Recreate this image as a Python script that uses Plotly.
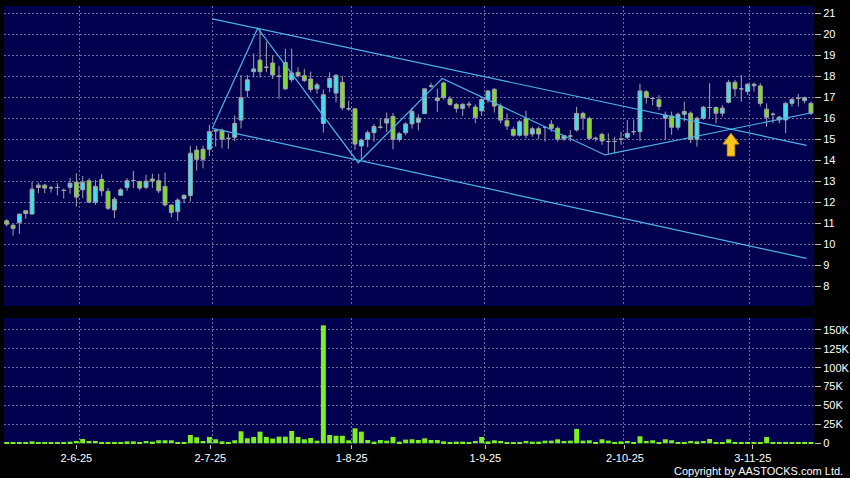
import plotly.graph_objects as go

# ---------------- data ----------------
OPEN = [11.11, 10.90, 11.03, 11.59, 11.43, 12.81, 12.81, 12.68, 12.70, 12.56,
        12.71, 12.95, 12.59, 13.02, 12.00, 13.08, 12.52, 11.63, 12.33, 12.70,
        13.03, 12.98, 12.71, 13.10, 13.02, 12.75, 11.86, 11.54, 12.18, 12.32,
        14.48, 14.52, 14.52, 15.40, 15.43, 15.04, 15.09, 15.91, 17.32, 18.22,
        18.77, 18.43, 18.63, 18.00, 18.66, 17.84, 18.19, 18.03, 17.87, 17.40,
        15.75, 17.47, 17.20, 17.71, 16.45, 16.45, 14.68, 15.00, 15.31, 15.57,
        15.77, 16.08, 14.99, 15.31, 15.73, 15.81, 16.22, 17.53, 16.97, 17.68,
        16.92, 16.66, 16.47, 16.68, 16.53, 16.35, 16.89, 17.38, 16.58, 15.88,
        15.47, 15.19, 15.99, 15.25, 15.50, 15.56, 15.71, 15.52, 15.01, 15.15,
        15.44, 16.23, 15.99, 15.04, 15.23, 14.89, 14.89, 15.00, 15.09, 15.36,
        15.36, 17.26, 16.94, 16.88, 16.00, 16.11, 15.57, 16.19, 16.24, 15.00,
        16.00, 16.51, 16.51, 16.24, 16.76, 17.71, 17.40, 17.27, 17.62, 17.54,
        16.43, 16.19, 15.92, 15.92, 16.71, 16.95, 16.84, 16.71]
HIGH = [11.19, 10.95, 11.43, 11.62, 12.98, 12.94, 12.87, 12.78, 12.90, 12.65,
        13.16, 13.38, 13.25, 13.14, 13.06, 13.33, 12.67, 12.24, 12.67, 13.14,
        13.49, 13.03, 13.30, 13.35, 13.35, 13.41, 11.90, 12.18, 12.38, 14.69,
        14.69, 14.69, 15.68, 15.47, 15.51, 15.28, 16.14, 18.06, 18.06, 19.09,
        20.24, 19.64, 19.00, 18.50, 19.32, 19.32, 18.43, 18.35, 18.22, 17.70,
        17.37, 18.19, 18.10, 18.00, 16.84, 16.45, 15.03, 15.42, 15.73, 16.00,
        16.27, 16.24, 15.34, 15.80, 16.50, 16.19, 17.40, 17.69, 17.40, 17.74,
        17.05, 16.73, 16.73, 16.81, 16.66, 16.96, 17.35, 17.43, 16.70, 16.23,
        15.60, 15.91, 16.36, 15.60, 15.60, 15.63, 15.91, 15.60, 15.20, 15.44,
        16.55, 16.31, 16.07, 15.12, 15.31, 15.28, 15.12, 15.36, 15.91, 15.94,
        17.65, 17.34, 17.02, 17.10, 16.32, 16.32, 16.27, 16.79, 16.32, 16.08,
        16.59, 17.67, 16.56, 16.63, 17.83, 17.83, 18.06, 17.67, 17.70, 17.67,
        16.71, 16.27, 16.11, 16.76, 16.95, 17.16, 17.03, 16.79]
LOW = [10.84, 10.40, 10.49, 11.21, 11.43, 12.43, 12.43, 12.46, 12.32, 12.17,
       12.40, 11.79, 12.19, 11.95, 11.87, 12.30, 11.63, 11.24, 12.30, 12.54,
       12.67, 12.56, 12.62, 12.67, 12.43, 11.79, 11.28, 11.11, 11.94, 12.02,
       13.50, 13.61, 14.20, 14.65, 14.57, 14.54, 14.91, 15.51, 17.00, 17.95,
       17.95, 18.19, 17.87, 16.93, 17.35, 17.72, 17.95, 17.72, 17.24, 17.17,
       15.32, 17.24, 16.75, 16.38, 16.35, 14.49, 14.00, 14.62, 14.88, 15.50,
       15.34, 14.52, 14.88, 15.19, 15.50, 15.42, 16.20, 17.45, 16.30, 16.89,
       16.58, 16.27, 16.11, 16.50, 15.77, 16.11, 16.73, 16.27, 15.75, 15.44,
       15.12, 15.12, 15.04, 15.12, 15.00, 14.89, 15.36, 14.89, 14.93, 14.89,
       15.36, 15.44, 14.96, 14.89, 14.73, 14.33, 14.33, 14.73, 15.01, 15.20,
       14.92, 16.70, 16.62, 16.40, 14.97, 15.21, 15.44, 15.84, 14.81, 14.65,
       15.92, 16.00, 15.76, 16.08, 16.71, 17.03, 16.79, 17.11, 17.27, 16.56,
       15.60, 15.76, 15.76, 15.29, 16.56, 16.56, 16.71, 16.16]
CLOSE = [10.95, 10.75, 11.43, 11.46, 12.62, 12.70, 12.67, 12.68, 12.70, 12.56,
         12.90, 12.24, 12.95, 12.00, 12.75, 12.54, 11.71, 12.14, 12.59, 13.02,
         13.03, 12.67, 13.00, 13.00, 12.54, 11.87, 11.51, 12.10, 12.32, 14.33,
         14.04, 14.04, 15.36, 15.40, 15.00, 15.04, 15.75, 16.98, 17.83, 18.35,
         18.22, 18.43, 18.06, 18.00, 17.40, 18.16, 18.03, 17.80, 17.37, 17.59,
         17.12, 17.89, 18.05, 16.50, 16.45, 14.77, 14.96, 15.31, 15.60, 15.57,
         15.96, 14.99, 15.26, 15.73, 16.32, 16.01, 17.40, 17.53, 16.84, 16.98,
         16.66, 16.47, 16.66, 16.64, 16.04, 16.89, 17.30, 16.58, 15.91, 15.63,
         15.19, 15.83, 15.19, 15.50, 15.25, 15.56, 15.52, 15.00, 15.17, 15.15,
         16.23, 16.02, 15.04, 15.04, 14.92, 14.89, 14.89, 15.00, 15.28, 15.36,
         17.30, 16.99, 16.94, 16.56, 16.16, 15.57, 16.19, 16.32, 15.00, 16.00,
         16.52, 16.51, 16.24, 16.48, 17.71, 17.40, 17.40, 17.62, 17.55, 16.71,
         16.05, 16.19, 16.05, 16.71, 16.90, 16.95, 16.98, 16.24]
VOLUME_K = [0.5, 0.5, 1.3, 0.5, 2.6, 1.3, 0.5, 0.5, 0.5, 0.5,
            2.2, 3.0, 5.7, 3.0, 3.0, 1.8, 1.8, 0.9, 1.3, 2.6,
            2.6, 0.5, 3.0, 2.2, 4.0, 4.0, 4.0, 1.8, 1.8, 11.0,
            8.0, 3.0, 8.4, 5.3, 2.6, 1.8, 4.0, 15.9, 6.6, 8.4,
            15.4, 8.4, 6.2, 8.8, 8.8, 16.3, 8.4, 5.3, 7.0, 3.5,
            156.0, 11.0, 10.0, 10.0, 4.0, 19.8, 15.4, 4.4, 2.2, 4.4,
            3.5, 8.4, 2.2, 4.9, 5.3, 4.4, 6.6, 4.4, 4.4, 2.6,
            1.8, 2.2, 2.2, 1.3, 3.0, 8.4, 2.6, 4.0, 3.0, 1.3,
            1.3, 1.8, 3.0, 2.2, 2.2, 3.5, 3.5, 5.3, 3.0, 3.5,
            19.0, 3.5, 4.0, 1.8, 5.3, 3.5, 1.8, 2.6, 3.0, 1.8,
            9.3, 3.0, 4.0, 1.3, 5.3, 4.0, 1.8, 1.8, 3.0, 2.6,
            3.0, 5.7, 1.3, 1.8, 5.3, 1.3, 1.3, 1.3, 1.3, 1.3,
            8.4, 0.9, 0.9, 1.8, 0.5, 0.5, 0.5, 0.5]
X = list(range(len(OPEN)))

TICK_LABELS = ["2-6-25", "2-7-25", "1-8-25", "1-9-25", "2-10-25", "3-11-25"]
TICK_POS = [10.99, 32.15, 54.48, 75.57, 97.63, 117.8]
GRID_POS = [11.46, 32.46, 54.48, 75.41, 97.36, 117.26]
PRICE_TICKS = list(range(8, 22))
VOL_TICKS = [0, 25000, 50000, 75000, 100000, 125000, 150000]
VOL_TICK_TEXT = ["0", "25K", "50K", "75K", "100K", "125K", "150K"]

# drawn analysis lines (candle index, price)
UPPER_X, UPPER_Y = [32.46, 126.3], [20.74, 14.71]
LOWER_X, LOWER_Y = [32.46, 126.3], [15.52, 9.32]
ZIGZAG_X = [32.46, 39.63, 55.52, 68.78, 94.47, 127.1]
ZIGZAG_Y = [15.52, 20.29, 13.88, 17.90, 14.25, 16.26]
ARROW_X, ARROW_TIP, ARROW_NECK, ARROW_BASE = 114.37, 15.28, 14.77, 14.20

# ---------------- styles ----------------
BG = "#00004e"
GRID = "#6c6c98"
WICK = "#a4a4a8"
UP = "#38e2ee"
DOWN = "#7ddf1e"
VOLC = "#7df01e"
TREND = "#4cb2ea"
FONT = dict(family="Liberation Sans, Arial, sans-serif", size=11, color="#ffffff")

fig = go.Figure()
fig.add_trace(go.Candlestick(
    x=X, open=OPEN, high=HIGH, low=LOW, close=CLOSE,
    increasing=dict(line=dict(color=WICK, width=1), fillcolor=UP),
    decreasing=dict(line=dict(color=WICK, width=1), fillcolor=DOWN),
    whiskerwidth=0, xaxis="x", yaxis="y", hoverinfo="skip", showlegend=False))

for xs, ys in [(UPPER_X, UPPER_Y), (LOWER_X, LOWER_Y), (ZIGZAG_X, ZIGZAG_Y)]:
    fig.add_trace(go.Scatter(x=xs, y=ys, mode="lines",
                             line=dict(color=TREND, width=1.2),
                             xaxis="x", yaxis="y", hoverinfo="skip", showlegend=False))

fig.add_trace(go.Bar(x=X, y=[v * 1000 for v in VOLUME_K], marker=dict(color=VOLC, line=dict(width=0)),
                     xaxis="x2", yaxis="y2", hoverinfo="skip", showlegend=False))

hw, sw = 1.26, 0.58
arrow_path = (f"M {ARROW_X},{ARROW_TIP} L {ARROW_X + hw},{ARROW_NECK} L {ARROW_X + sw},{ARROW_NECK} "
              f"L {ARROW_X + sw},{ARROW_BASE} L {ARROW_X - sw},{ARROW_BASE} L {ARROW_X - sw},{ARROW_NECK} "
              f"L {ARROW_X - hw},{ARROW_NECK} Z")
fig.add_shape(type="path", path=arrow_path, xref="x", yref="y",
              fillcolor="#f7c51e", line=dict(color="#d69a00", width=1), layer="above")

minor_grid = dict(tickmode="array", tickvals=GRID_POS, showgrid=True, gridcolor=GRID,
                  griddash="2px,2px", gridwidth=1, ticks="")

fig.update_layout(
    width=850, height=478,
    margin=dict(l=4, r=36, t=6, b=34, autoexpand=False),
    paper_bgcolor="#000000", plot_bgcolor=BG,
    font=FONT, showlegend=False, boxgap=0.12, bargap=0.22,
    xaxis=dict(domain=[0, 1], anchor="y", range=[-0.43, 127.48], tickmode="array",
               tickvals=TICK_POS, showticklabels=False, ticks="", showgrid=False,
               zeroline=False, showline=False, rangeslider=dict(visible=False),
               minor=minor_grid),
    xaxis2=dict(domain=[0, 1], anchor="y2", matches="x", range=[-0.43, 127.48],
                tickmode="array", tickvals=TICK_POS, ticktext=TICK_LABELS,
                ticks="outside", ticklen=4, tickcolor="#bbbbbb", showgrid=False,
                zeroline=False, showline=False, rangeslider=dict(visible=False),
                minor=minor_grid, tickfont=FONT),
    yaxis=dict(domain=[0.3151, 1], anchor="x", side="right", range=[7.05, 21.35],
               tickmode="array", tickvals=PRICE_TICKS, showgrid=True, gridcolor=GRID,
               griddash="2px,2px", ticks="outside", ticklen=6, tickcolor="#bbbbbb",
               zeroline=False, showline=False, tickfont=FONT),
    yaxis2=dict(domain=[0, 0.2877], anchor="x2", side="right", range=[-925, 165700],
                tickmode="array", tickvals=VOL_TICKS, ticktext=VOL_TICK_TEXT,
                showgrid=True, gridcolor=GRID, griddash="2px,2px", ticks="outside",
                ticklen=6, tickcolor="#bbbbbb", zeroline=False, showline=False, tickfont=FONT),
    annotations=[dict(text="Copyright by AASTOCKS.com Ltd.", xref="paper", yref="paper",
                      x=1.038, y=-0.0616, xanchor="right", yanchor="middle", showarrow=False,
                      font=dict(family="Liberation Sans, Arial, sans-serif", size=11, color="#ffffff"))],
)

fig.write_html("out.html", config={"displayModeBar": False},
               post_script="document.body.style.margin='0';document.body.style.overflow='hidden';")
